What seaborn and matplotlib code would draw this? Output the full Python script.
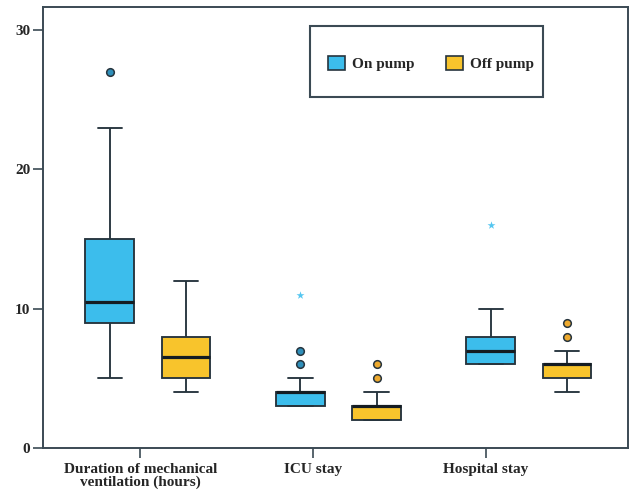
import matplotlib
matplotlib.use("Agg")
import matplotlib.pyplot as plt
from matplotlib.patches import Patch, Rectangle
import numpy as np
import pandas as pd
import seaborn as sns

# Outcome categories and groups
categories = ["Duration of mechanical\nventilation (hours)", "ICU stay", "Hospital stay"]
groups = ["On pump", "Off pump"]

# Per-patient values (extreme values kept apart and shown as stars)
vent_on = [5, 6, 8, 9, 9, 9, 10, 10, 10, 10, 10.5, 11, 12, 14, 15, 15, 16, 18, 20, 23, 27]
vent_off = [4, 4, 5, 5, 5, 5, 6, 6, 6, 6, 6.5, 7, 7, 7, 8, 8, 8, 9, 10, 11, 12]
icu_on = [3, 3, 3, 3, 3, 3, 3, 4, 4, 4, 4, 4, 4, 4, 4, 4, 5, 5, 5, 6, 7]
icu_off = [2, 2, 2, 2, 2, 2, 2, 3, 3, 3, 3, 3, 3, 3, 3, 3, 4, 4, 4, 5, 6]
hosp_on = [6, 6, 6, 6, 6, 6, 7, 7, 7, 7, 7, 7, 7, 8, 8, 8, 8, 9, 9, 10, 10]
hosp_off = [4, 4, 5, 5, 5, 5, 5, 6, 6, 6, 6, 6, 6, 6, 6, 6, 7, 7, 7, 8, 9]

extreme_cat = ["ICU stay", "Hospital stay"]
extreme_grp = ["On pump", "On pump"]
extreme_val = [11, 16]

y_ticks = [0, 10, 20, 30]
x_tick_pos = [-0.04, 0.866, 1.774]

colors = {"On pump": "#3cbdec", "Off pump": "#f8c42c"}
flier_faces = {"On pump": "#2f8fba", "Off pump": "#eda92e"}
dark = "#26343d"
frame_col = "#3b4a54"

series = {
    (categories[0], "On pump"): vent_on,
    (categories[0], "Off pump"): vent_off,
    (categories[1], "On pump"): icu_on,
    (categories[1], "Off pump"): icu_off,
    (categories[2], "On pump"): hosp_on,
    (categories[2], "Off pump"): hosp_off,
}
rows = [(c, g, v) for (c, g), vals in series.items() for v in vals]
df = pd.DataFrame(rows, columns=["outcome", "group", "value"])
cat_map = {"ICU stay": categories[1], "Hospital stay": categories[2]}
ext = pd.DataFrame({"outcome": [cat_map[c] for c in extreme_cat],
                    "group": extreme_grp, "value": extreme_val})

sns.set_theme(style="ticks")
plt.rcParams["font.family"] = ["Liberation Serif", "DejaVu Serif"]
plt.rcParams["font.weight"] = "bold"

fig = plt.figure(figsize=(6.36, 4.93), dpi=100)
ax = fig.add_axes([0.0676, 0.0913, 0.9198, 0.8937])

sns.boxplot(data=df, x="outcome", y="value", hue="group", order=categories,
            hue_order=groups, palette=colors, saturation=1, width=0.8, gap=0.36,
            linecolor=dark, linewidth=1.35, whis=1.5, legend=False, ax=ax,
            medianprops={"linewidth": 2.3, "color": "#141c22"},
            flierprops={"marker": "o", "markersize": 5.5, "markeredgewidth": 1.1,
                        "markeredgecolor": dark})

for cont, g in zip(ax.containers, groups):
    for fl in cont.fliers:
        fl.set_markerfacecolor(flier_faces[g])

sns.stripplot(data=ext, x="outcome", y="value", hue="group", order=categories,
              hue_order=groups, dodge=True, jitter=False, marker="*", size=6,
              palette={"On pump": "#55c6f0", "Off pump": "#55c6f0"},
              linewidth=0, legend=False, ax=ax)

ax.set_xlim(-0.551, 2.52)
ax.set_ylim(0, 31.64)
ax.set_yticks(y_ticks)
ax.set_yticklabels([str(t) for t in y_ticks], fontsize=11, fontweight="bold")
ax.set_xticks(x_tick_pos)
ax.set_xticklabels(categories, fontsize=11, fontweight="bold", linespacing=0.95)
ax.set_xlabel("")
ax.set_ylabel("")
for s in ax.spines.values():
    s.set_visible(True)
    s.set_color(frame_col)
    s.set_linewidth(1.4)
ax.tick_params(axis="both", length=7, width=1.2, color=frame_col)
ax.tick_params(axis="y", right=False, pad=2)
ax.tick_params(axis="x", top=False, pad=4)

handles = [Patch(facecolor=colors[g], edgecolor=dark, linewidth=1.2, label=g) for g in groups]
leg = ax.legend(handles=handles, ncol=2, loc="center left", bbox_to_anchor=(0.487, 0.873),
                frameon=False, borderpad=0, borderaxespad=0, handlelength=1.1,
                handleheight=1.1, handletextpad=0.45, columnspacing=2.1,
                prop={"family": "Liberation Serif", "weight": "bold", "size": 11})
ax.add_patch(Rectangle((0.456, 0.796), 0.399, 0.161, transform=ax.transAxes,
                       fill=False, edgecolor=frame_col, linewidth=1.5, zorder=5))

fig.savefig("out.png", dpi=100)
